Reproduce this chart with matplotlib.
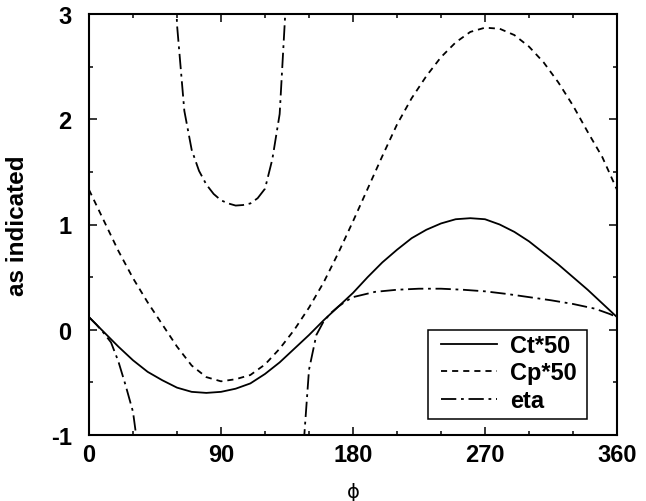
import numpy as np
import matplotlib
matplotlib.use("Agg")
import matplotlib.pyplot as plt
from matplotlib.ticker import MultipleLocator
from matplotlib.patches import Rectangle

# Rotor coefficients versus azimuth angle phi (degrees)
phi_deg = [0, 10, 20, 30, 40, 50, 60, 70, 80, 90, 100, 110, 120, 130, 140,
           150, 160, 170, 180, 190, 200, 210, 220, 230, 240, 250, 260, 270,
           280, 290, 300, 310, 320, 330, 340, 350, 360]
ct50 = [0.12, -0.02, -0.16, -0.29, -0.40, -0.48, -0.55, -0.59, -0.60, -0.59,
        -0.56, -0.51, -0.42, -0.31, -0.18, -0.05, 0.09, 0.22, 0.35, 0.50,
        0.64, 0.76, 0.87, 0.95, 1.01, 1.05, 1.06, 1.05, 1.00, 0.93, 0.84,
        0.73, 0.62, 0.50, 0.38, 0.25, 0.12]
cp50 = [1.33, 1.04, 0.75, 0.49, 0.26, 0.05, -0.16, -0.34, -0.45, -0.49,
        -0.47, -0.43, -0.33, -0.18, 0.00, 0.21, 0.45, 0.73, 1.03, 1.34,
        1.65, 1.95, 2.20, 2.41, 2.59, 2.73, 2.83, 2.87, 2.86, 2.80, 2.69,
        2.54, 2.35, 2.13, 1.88, 1.64, 1.33]

# Efficiency; NaN separates the branches around the singularities
eta_phi = [0, 5, 10, 15, 20, 25, 30, 35, 45,
           55, 60, 65, 70, 75, 80, 85, 90, 95, 100, 105, 110, 115, 120, 125,
           130, 135, 140,
           145, 150, 155, 160, 165, 170, 175, 180, 195, 210, 225, 240, 255,
           270, 285, 300, 315, 330, 345, 355, 360]
eta = [0.12, 0.05, -0.03, -0.12, -0.30, -0.53, -0.78, -1.30, np.nan,
       5.00, 2.90, 2.08, 1.71, 1.51, 1.38, 1.29, 1.23, 1.20, 1.18, 1.185,
       1.20, 1.25, 1.34, 1.62, 2.05, 3.30, np.nan,
       -1.35, -0.38, -0.05, 0.08, 0.16, 0.22, 0.27, 0.31, 0.36, 0.38, 0.39,
       0.39, 0.38, 0.365, 0.34, 0.31, 0.28, 0.245, 0.20, 0.15, 0.12]

series_labels = ["Ct*50", "Cp*50", "eta"]
x_ticks = [0, 90, 180, 270, 360]
y_ticks = [-1, 0, 1, 2, 3]

plt.rcParams["font.family"] = ["Liberation Sans", "DejaVu Sans"]
plt.rcParams["font.weight"] = "bold"
plt.rcParams["lines.scale_dashes"] = False
plt.rcParams["axes.unicode_minus"] = False

FS = 17
fig = plt.figure(figsize=(6.46, 5.02), dpi=100)
ax = fig.add_axes([89 / 646, 1 - 436 / 502, 528 / 646, 421 / 502])

lw = 1.3
ax.plot(phi_deg, ct50, color="black", lw=lw, ls="-", label=series_labels[0])
ax.plot(phi_deg, cp50, color="black", lw=lw, ls=(0, (4.4, 3.6)),
        label=series_labels[1])
ax.plot(eta_phi, eta, color="black", lw=lw,
        ls=(0, (11.0, 3.4, 2.0, 3.4)), label=series_labels[2])

ax.set_xlim(0, 360)
ax.set_ylim(-1, 3)
ax.set_xticks(x_ticks)
ax.set_yticks(y_ticks)
ax.xaxis.set_minor_locator(MultipleLocator(30))
ax.yaxis.set_minor_locator(MultipleLocator(0.5))

ax.tick_params(which="both", direction="in", top=True, right=True,
               width=1.1, color="black")
ax.tick_params(which="major", length=5.8)
ax.tick_params(which="minor", length=2.9)
ax.tick_params(axis="x", which="major", pad=5.5, labelsize=FS)
ax.tick_params(axis="y", which="major", pad=12.5, labelsize=FS)
for lab in ax.get_xticklabels() + ax.get_yticklabels():
    lab.set_fontweight("bold")

for sp in ax.spines.values():
    sp.set_linewidth(1.5)
    sp.set_color("black")

fig.text(18 / 646, 1 - 225.5 / 502, "as indicated", rotation=90,
         ha="center", va="center", fontsize=17.5, fontweight="bold")
fig.text(353 / 646, 1 - 493 / 502, "ϕ", ha="center", va="center",
         fontsize=14, fontweight="normal", family=["DejaVu Sans"])

# Legend entries without their own frame; a plain box is drawn around them
leg = ax.legend(loc="center", bbox_to_anchor=(0.7955, 0.1473),
                borderaxespad=0, fontsize=FS, frameon=False,
                handlelength=2.35, handletextpad=0.55, labelspacing=0.2,
                borderpad=0.0)
for t in leg.get_texts():
    t.set_fontweight("bold")
ax.add_patch(Rectangle((0.642, 0.038), 0.301, 0.211, transform=ax.transAxes,
                       fill=True, facecolor="white", edgecolor="black",
                       lw=1.1, zorder=4.5))
leg.set_zorder(5)

fig.savefig("out.png", dpi=100)
